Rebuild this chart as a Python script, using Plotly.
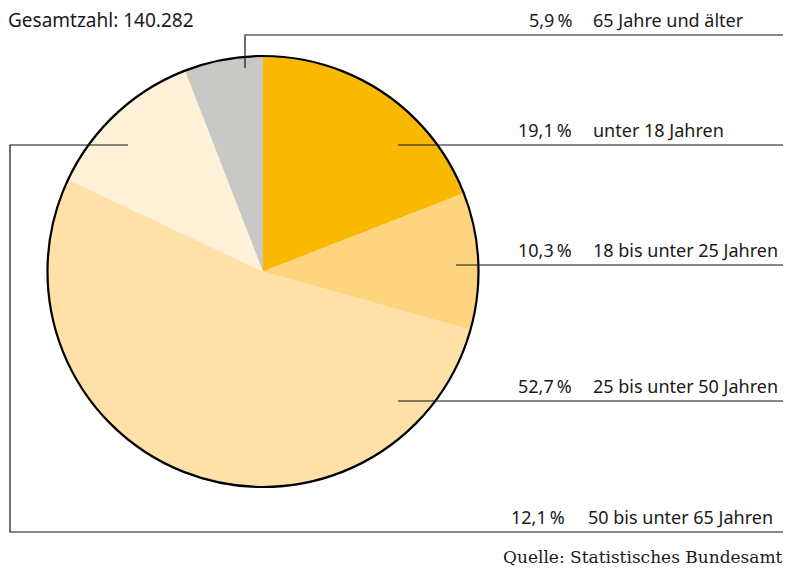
import plotly.graph_objects as go

# Altersstruktur, Anteile in Prozent (im Uhrzeigersinn ab 12 Uhr)
categories = ["unter 18 Jahren", "18 bis unter 25 Jahren", "25 bis unter 50 Jahren",
              "50 bis unter 65 Jahren", "65 Jahre und älter"]
shares = [19.1, 10.3, 52.7, 12.1, 5.9]
colors = ["#FAB900", "#FED47E", "#FEE0A8", "#FEF1D8", "#C8C8C6"]
total_label = "Gesamtzahl: 140.282"
source_label = "Quelle: Statistisches Bundesamt"

W, H = 788, 572
CX, CY, R = 263, 271.5, 215.5

# Beschriftungslayout in Pixeln: Zeilen-y, Spalten-x und Führungslinie
label_layout = {
    "unter 18 Jahren": dict(y=145, pct_x=574, cat_x=591, path=[(398, 145)]),
    "18 bis unter 25 Jahren": dict(y=265, pct_x=574, cat_x=591, path=[(456, 265)]),
    "25 bis unter 50 Jahren": dict(y=401, pct_x=574, cat_x=591, path=[(398, 401)]),
    "50 bis unter 65 Jahren": dict(y=532, pct_x=567, cat_x=586,
                                   path=[(128, 145), (10, 145), (10, 532)]),
    "65 Jahre und älter": dict(y=35, pct_x=574, cat_x=591, path=[(245, 68), (245, 35)]),
}
LINE_END = 783

FONT = "Noto Sans"
TEXT_COLOR = "#1a1a1a"


def px(x):
    return x / W


def py(y):
    return 1 - y / H


fig = go.Figure(go.Pie(
    labels=categories,
    values=shares,
    sort=False,
    direction="clockwise",
    rotation=0,
    marker=dict(colors=colors, line=dict(width=0)),
    textinfo="none",
    hoverinfo="label+percent",
    showlegend=False,
    domain=dict(x=[px(CX - R), px(CX + R)], y=[py(CY + R), py(CY - R)]),
))

shapes = [dict(type="circle", xref="paper", yref="paper",
               x0=px(CX - R), x1=px(CX + R), y0=py(CY + R), y1=py(CY - R),
               line=dict(color="black", width=2.2))]
annotations = []

for cat, val in zip(categories, shares):
    lay = label_layout[cat]
    pts = lay["path"] + [(LINE_END, lay["y"])]
    d = "M " + " L ".join(f"{px(x)},{py(y)}" for x, y in pts)
    shapes.append(dict(type="path", xref="paper", yref="paper", path=d,
                       line=dict(color="#111111", width=1.2)))
    pct = f"{val:.1f}".replace(".", ",") + "\u202f%"
    annotations.append(dict(text=pct, x=px(lay["pct_x"]), y=py(lay["y"] - 1),
                            xref="paper", yref="paper", xanchor="right", yanchor="bottom",
                            showarrow=False, font=dict(family=FONT, size=18, color=TEXT_COLOR)))
    annotations.append(dict(text=cat, x=px(lay["cat_x"]), y=py(lay["y"] - 1),
                            xref="paper", yref="paper", xanchor="left", yanchor="bottom",
                            showarrow=False, font=dict(family=FONT, size=18, color=TEXT_COLOR)))

annotations.append(dict(text=total_label, x=px(6), y=py(5), xref="paper", yref="paper",
                        xanchor="left", yanchor="top", showarrow=False,
                        font=dict(family=FONT, size=19, color=TEXT_COLOR)))
annotations.append(dict(text=source_label, x=px(785), y=py(557), xref="paper", yref="paper",
                        xanchor="right", yanchor="middle", showarrow=False,
                        font=dict(family="DejaVu Serif", size=17, color=TEXT_COLOR)))

fig.update_layout(
    width=W, height=H,
    margin=dict(l=0, r=0, t=0, b=0),
    paper_bgcolor="white", plot_bgcolor="white",
    shapes=shapes, annotations=annotations,
)

fig.write_html("out.html")
